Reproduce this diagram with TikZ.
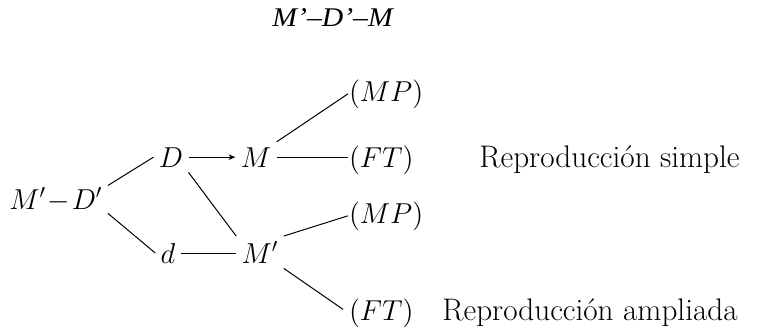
\documentclass[tikz,border=0pt]{standalone}
\usepackage{fontspec}
\usepackage{graphicx}
\usetikzlibrary{arrows.meta}
\newfontfamily\titleit{Liberation Serif Italic}
\begin{document}
\begin{tikzpicture}[x=0.5pt,y=-0.5pt,
  lbl/.style={inner sep=2.5pt, anchor=base, font=\fontsize{14}{17}\selectfont},
  leaf/.style={inner sep=0.3pt, anchor=base west, font=\fontsize{14}{17}\selectfont},
  txt/.style={inner sep=0pt, anchor=base west, font=\fontsize{15.6}{19}\selectfont},
  conn/.style={line width=0.5pt}]
\useasboundingbox (0,0) rectangle (766,333);
\node[inner sep=0pt, anchor=base west] (title) at (272,26)
  {\fontsize{13.5}{16}\titleit\selectfont\scalebox{1.1}[1]{M’–D’–M}};
\node[lbl, anchor=base west] (MD) at (4,209) {$M'\mkern1mu{-}\mkern1mu D'$};
\node[lbl] (D) at (171,167) {$D$};
\node[lbl] (M) at (256,167) {$M$};
\node[lbl] (d) at (168,263) {$d$};
\node[lbl] (Mp) at (260,263) {$M'$};
\node[leaf] (MP1) at (348,101) {$(MP)$};
\node[leaf] (FT1) at (348,167) {$(FT)$};
\node[leaf] (MP2) at (348,223) {$(MP)$};
\node[leaf] (FT2) at (348,320) {$(FT)$};
\node[txt] (rs) at (479,167) {Reproducción simple};
\node[txt] (ra) at (442,320) {Reproducción ampliada};
\draw[conn] (MD.15) -- (D.west);
\draw[conn] (MD.-15) -- (d.west);
\draw[conn,-{Stealth[length=3.5pt,width=2.8pt]}] (D.east) -- (M.west);
\draw[conn] (D.south east) -- (Mp.north west);
\draw[conn] (d.east) -- (d.east -| Mp.west);
\draw[conn] (M.north east) -- (MP1.west);
\draw[conn] (M.east) -- (M.east -| FT1.west);
\draw[conn] (Mp.north east) -- (MP2.west);
\draw[conn,shorten >=3pt] (Mp.south east) -- (FT2.west);
\end{tikzpicture}
\end{document}
